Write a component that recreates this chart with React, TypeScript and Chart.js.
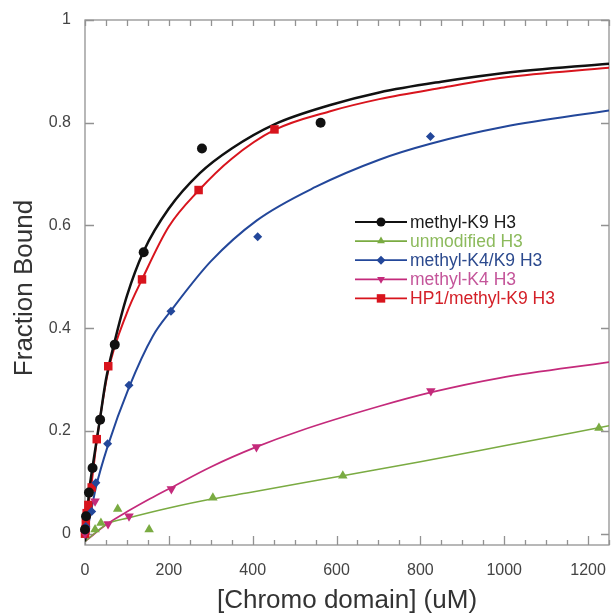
import React, { useEffect, useRef } from 'react';
import { Chart, registerables } from 'chart.js';

Chart.register(...registerables);

// ---- axis ticks ----
const xTicks = [0, 200, 400, 600, 800, 1000, 1200];
const xTickLabels = ['0', '200', '400', '600', '800', '1000', '1200'];
const xMinorTicks = [50, 100, 150, 250, 300, 350, 450, 500, 550, 650, 700, 750, 850, 900, 950, 1050, 1100, 1150, 1250];
const yTicks = [0, 0.2, 0.4, 0.6, 0.8, 1];
const yTickLabels = ['0', '0.2', '0.4', '0.6', '0.8', '1'];

const xTitle = '[Chromo domain] (uM)';
const yTitle = 'Fraction Bound';

// ---- series ----
const seriesNames = ['methyl-K9 H3', 'unmodified H3', 'methyl-K4/K9 H3', 'methyl-K4 H3', 'HP1/methyl-K9 H3'];
const seriesColors = ['#111111', '#7aab42', '#23479a', '#c42a7b', '#d8141d'];
const legendTextColors = ['#1a1a1a', '#8cba5c', '#2c4a8e', '#c4559a', '#d42028'];
const seriesStyles = ['circle', 'triangle', 'rectRot', 'triangleDown', 'rect'];

// measured points
const k9X = [0, 2.4, 9.5, 18, 36, 71, 140, 279, 562];
const k9Y = [0.008, 0.034, 0.08, 0.128, 0.222, 0.368, 0.548, 0.75, 0.8];
const unmodX = [24, 38, 78, 153, 305, 615, 1226];
const unmodY = [0.008, 0.021, 0.048, 0.008, 0.07, 0.113, 0.206];
const k4k9X = [2, 16, 26, 54, 105, 205, 412, 824];
const k4k9Y = [0.014, 0.043, 0.099, 0.175, 0.289, 0.433, 0.578, 0.773];
const k4X = [0, 2, 24, 55, 105, 206, 409, 825];
const k4Y = [0, 0.006, 0.063, 0.019, 0.034, 0.087, 0.169, 0.278];
const hp1X = [0, 1, 2, 4, 8, 16, 28, 55.5, 136, 271, 452];
const hp1Y = [0, 0.008, 0.021, 0.04, 0.056, 0.09, 0.184, 0.326, 0.495, 0.669, 0.787];

// fitted curves
const k9FitX = [0, 5, 9.5, 18, 36, 50, 71, 100, 140, 200, 274, 350, 452, 583, 702, 850, 1000, 1250];
const k9FitY = [-0.015, 0.035, 0.08, 0.13, 0.225, 0.3, 0.375, 0.463, 0.55, 0.633, 0.702, 0.75, 0.797, 0.834, 0.859, 0.88, 0.897, 0.915];
const unmodFitX = [0, 55, 105, 200, 305, 393, 615, 800, 1000, 1250];
const unmodFitY = [-0.015, 0.02, 0.031, 0.05, 0.068, 0.08, 0.113, 0.14, 0.171, 0.21];
const k4k9FitX = [0, 16, 26, 54, 105, 162, 205, 300, 410, 550, 702, 824, 1000, 1250];
const k4k9FitY = [-0.015, 0.05, 0.09, 0.17, 0.285, 0.385, 0.434, 0.53, 0.61, 0.675, 0.728, 0.759, 0.792, 0.824];
const k4FitX = [0, 55, 105, 155, 206, 300, 409, 512, 702, 825, 988, 1250];
const k4FitY = [-0.015, 0.02, 0.045, 0.068, 0.09, 0.13, 0.169, 0.2, 0.248, 0.275, 0.303, 0.334];
const hp1FitX = [0, 8, 16, 28, 55, 100, 136, 200, 271, 350, 452, 583, 702, 850, 1000, 1250];
const hp1FitY = [-0.015, 0.055, 0.1, 0.18, 0.315, 0.43, 0.495, 0.598, 0.668, 0.73, 0.786, 0.822, 0.846, 0.868, 0.888, 0.907];

const pointsX = [k9X, unmodX, k4k9X, k4X, hp1X];
const pointsY = [k9Y, unmodY, k4k9Y, k4Y, hp1Y];
const fitX = [k9FitX, unmodFitX, k4k9FitX, k4FitX, hp1FitX];
const fitY = [k9FitY, unmodFitY, k4k9FitY, k4FitY, hp1FitY];

const FONT = '"Liberation Sans", Arial, Helvetica, sans-serif';
const pointRadii = [5, 5.5, 4.5, 5.5, 6];
const lineWidths = [2.5, 1.5, 2, 1.7, 2];

const zip = (xs: number[], ys: number[]) => xs.map((x, i) => ({ x, y: ys[i] }));

function drawMarker(ctx: CanvasRenderingContext2D, style: string, x: number, y: number, r: number) {
  ctx.beginPath();
  if (style === 'circle') {
    ctx.arc(x, y, r, 0, Math.PI * 2);
  } else if (style === 'triangle' || style === 'triangleDown') {
    const s = style === 'triangle' ? 1 : -1;
    ctx.moveTo(x, y - s * r);
    ctx.lineTo(x + r * 0.866, y + s * r * 0.5);
    ctx.lineTo(x - r * 0.866, y + s * r * 0.5);
    ctx.closePath();
  } else if (style === 'rectRot') {
    ctx.moveTo(x, y - r);
    ctx.lineTo(x + r, y);
    ctx.lineTo(x, y + r);
    ctx.lineTo(x - r, y);
    ctx.closePath();
  } else {
    const h = r * 0.7071;
    ctx.rect(x - h, y - h, 2 * h, 2 * h);
  }
  ctx.fill();
}

const framePlugin = {
  id: 'frameTicks',
  beforeDatasetsDraw(chart: any) {
    const { ctx, chartArea: a, scales } = chart;
    const x = scales.x;
    const y = scales.y;
    ctx.save();
    ctx.strokeStyle = '#929292';
    ctx.lineWidth = 1.3;
    ctx.strokeRect(a.left, a.top, a.right - a.left, a.bottom - a.top);
    ctx.beginPath();
    for (const v of xTicks) {
      const px = Math.round(x.getPixelForValue(v)) + 0.5;
      ctx.moveTo(px, a.bottom);
      ctx.lineTo(px, a.bottom - 9);
      ctx.moveTo(px, a.top);
      ctx.lineTo(px, a.top + 6);
    }
    for (const v of xMinorTicks) {
      const px = Math.round(x.getPixelForValue(v)) + 0.5;
      ctx.moveTo(px, a.bottom);
      ctx.lineTo(px, a.bottom - 5);
      ctx.moveTo(px, a.top);
      ctx.lineTo(px, a.top + 6);
    }
    for (const v of yTicks) {
      const py = Math.round(y.getPixelForValue(v)) + 0.5;
      ctx.moveTo(a.left, py);
      ctx.lineTo(a.left + 9, py);
      ctx.moveTo(a.right, py);
      ctx.lineTo(a.right - 8, py);
    }
    ctx.stroke();
    ctx.restore();
  },
  afterDraw(chart: any) {
    const { ctx, chartArea: a } = chart;
    ctx.save();
    // axis titles
    ctx.fillStyle = '#333333';
    ctx.font = `26px ${FONT}`;
    ctx.textAlign = 'center';
    ctx.textBaseline = 'alphabetic';
    ctx.fillText(xTitle, (a.left + a.right) / 2, 608);
    ctx.save();
    ctx.translate(32, 288);
    ctx.rotate(-Math.PI / 2);
    ctx.fillText(yTitle, 0, 0);
    ctx.restore();

    // legend
    const lx0 = 355;
    const lx1 = 407;
    const ly0 = 222;
    const lstep = 19.1;
    ctx.font = `17.5px ${FONT}`;
    ctx.textAlign = 'left';
    ctx.textBaseline = 'middle';
    seriesNames.forEach((name, i) => {
      const yy = ly0 + i * lstep;
      ctx.strokeStyle = seriesColors[i];
      ctx.lineWidth = 1.8;
      ctx.beginPath();
      ctx.moveTo(lx0, yy);
      ctx.lineTo(lx1, yy);
      ctx.stroke();
      ctx.fillStyle = seriesColors[i];
      const r = seriesStyles[i] === 'rect' ? 6 : 4.5;
      drawMarker(ctx, seriesStyles[i], (lx0 + lx1) / 2, yy, r);
      ctx.fillStyle = legendTextColors[i];
      ctx.fillText(name, 410, yy + 1);
    });
    ctx.restore();
  },
};

export default function App() {
  const canvasRef = useRef<HTMLCanvasElement | null>(null);

  useEffect(() => {
    const canvas = canvasRef.current;
    if (!canvas) return;

    const lineSets = seriesNames.map((name, i) => ({
      label: name + ' fit',
      data: zip(fitX[i], fitY[i]),
      showLine: true,
      borderColor: seriesColors[i],
      backgroundColor: seriesColors[i],
      borderWidth: lineWidths[i],
      pointRadius: 0,
      pointHoverRadius: 0,
      cubicInterpolationMode: 'monotone',
      fill: false,
      order: 2,
    }));

    const pointSets = seriesNames.map((name, i) => ({
      label: name,
      data: zip(pointsX[i], pointsY[i]),
      showLine: false,
      borderColor: seriesColors[i],
      backgroundColor: seriesColors[i],
      pointStyle: seriesStyles[i] === 'triangleDown' ? 'triangle' : seriesStyles[i],
      rotation: seriesStyles[i] === 'triangleDown' ? 180 : 0,
      pointRadius: pointRadii[i],
      pointBorderWidth: 0,
      borderWidth: 0,
      clip: false,
      order: 1,
    }));

    const chart = new Chart(canvas, {
      type: 'scatter',
      data: { datasets: [...pointSets, ...lineSets] as any },
      plugins: [framePlugin],
      options: {
        animation: false,
        responsive: false,
        devicePixelRatio: 1,
        layout: { autoPadding: false, padding: { top: 20, right: 2, left: 0, bottom: 0 } },
        plugins: {
          legend: { display: false },
          tooltip: { enabled: false },
          title: { display: false },
        },
        scales: {
          x: {
            type: 'linear',
            min: 0,
            max: 1250,
            grid: { display: false, drawTicks: false },
            border: { display: false },
            afterBuildTicks: (scale: any) => {
              scale.ticks = xTicks.map((v) => ({ value: v }));
            },
            afterFit: (scale: any) => {
              scale.height = 69;
              scale.paddingLeft = 0;
              scale.paddingRight = 0;
            },
            ticks: {
              padding: 16,
              maxRotation: 0,
              autoSkip: false,
              color: '#444444',
              font: { family: FONT, size: 16 },
              callback: (_v: any, i: number) => xTickLabels[i],
            },
          },
          y: {
            type: 'linear',
            min: -0.022,
            max: 1,
            grid: { display: false, drawTicks: false },
            border: { display: false },
            afterBuildTicks: (scale: any) => {
              scale.ticks = yTicks.map((v) => ({ value: v }));
            },
            afterFit: (scale: any) => {
              scale.width = 85;
              scale.paddingTop = 0;
              scale.paddingBottom = 0;
            },
            ticks: {
              padding: 14,
              autoSkip: false,
              color: '#444444',
              font: { family: FONT, size: 16 },
              callback: (_v: any, i: number) => yTickLabels[i],
            },
          },
        },
      } as any,
    });

    return () => chart.destroy();
  }, []);

  return (
    <div style={{ position: 'absolute', left: 0, top: 0, width: 611, height: 614, background: '#ffffff' }}>
      <canvas ref={canvasRef} width={611} height={614} style={{ display: 'block' }} />
    </div>
  );
}
